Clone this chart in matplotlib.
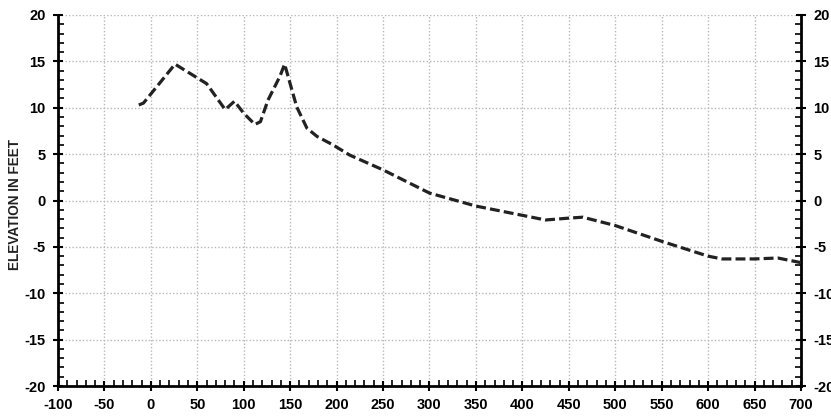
import matplotlib
matplotlib.use("Agg")
import matplotlib.pyplot as plt
from matplotlib.ticker import MultipleLocator

station = [-13, -8, 26, 60, 80, 90, 100, 112, 118, 126, 139, 144, 157, 168, 179, 196, 214, 250, 300, 350, 400, 425, 450, 465, 500, 550, 600, 615, 650, 675, 700]
elevation = [10.3, 10.5, 14.7, 12.6, 9.8, 10.7, 9.4, 8.2, 8.5, 10.8, 13.4, 14.7, 10.1, 7.8, 6.9, 6.0, 4.9, 3.3, 0.8, -0.6, -1.6, -2.1, -1.9, -1.8, -2.7, -4.4, -6.0, -6.3, -6.3, -6.2, -6.7]

xticks = list(range(-100, 701, 50))
yticks = list(range(-20, 21, 5))

plt.rcParams['font.family'] = ['Liberation Sans', 'DejaVu Sans']
plt.rcParams['axes.unicode_minus'] = False

fig = plt.figure(figsize=(8.31, 4.17), dpi=100)
ax = fig.add_axes([58/831, 1-386/417, (801-58)/831, (386-15)/417])

ax.plot(station, elevation, color='#222222', lw=2.3, ls=(0, (3.1, 1.3)), zorder=3)

ax.set_xlim(-100, 700)
ax.set_ylim(-20, 20)
ax.set_xticks(xticks)
ax.set_yticks(yticks)
ax.xaxis.set_minor_locator(MultipleLocator(10))
ax.yaxis.set_minor_locator(MultipleLocator(1))

ax.grid(True, which='major', color='#b8b8b8', ls=(0, (1, 1.5)), lw=1.0)

for s in ['left', 'bottom', 'right']:
    ax.spines[s].set_linewidth(2.0)
    ax.spines[s].set_color('black')
ax.spines['top'].set_visible(False)

ax.tick_params(axis='both', which='major', direction='inout', length=7, width=1.5,
               labelsize=10.5)
ax.tick_params(axis='both', which='minor', direction='in', length=4.5, width=1.2)
ax.tick_params(axis='y', which='both', left=True, right=True, labelleft=True, labelright=True)
ax.tick_params(axis='y', which='major', pad=5.5)
ax.tick_params(axis='x', which='both', top=False)
ax.tick_params(axis='x', which='major', pad=5)
for lab in ax.get_xticklabels() + ax.get_yticklabels():
    lab.set_fontweight('bold')
for t in ax.yaxis.get_major_ticks():
    t.label2.set_fontweight('bold')

fig.text(15/831, 1-205/417, 'ELEVATION IN FEET', rotation=90, ha='center', va='center',
         fontsize=9.8, fontweight='bold', color='#222222')

fig.savefig('out.png', dpi=100)
